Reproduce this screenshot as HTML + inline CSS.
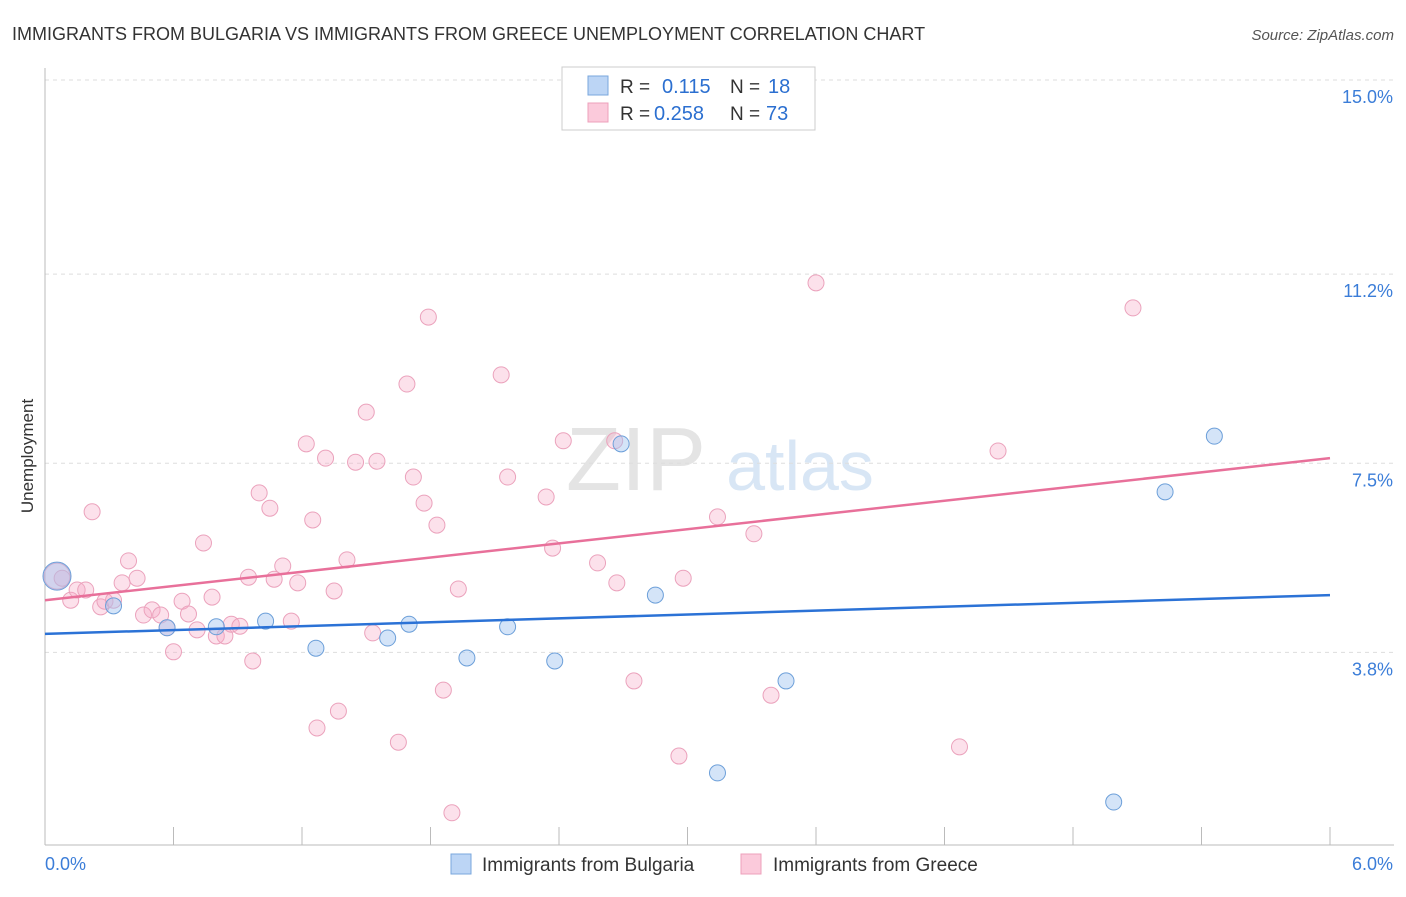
<!DOCTYPE html>
<html><head><meta charset="utf-8">
<style>
body{margin:0;background:#fff;font-family:"Liberation Sans",sans-serif;}
svg text{font-family:"Liberation Sans",sans-serif;}
</style></head>
<body>
<svg id="chart" width="1406" height="892" xmlns="http://www.w3.org/2000/svg">
<text x="12" y="40" font-size="18" fill="#333">IMMIGRANTS FROM BULGARIA VS IMMIGRANTS FROM GREECE UNEMPLOYMENT CORRELATION CHART</text>
<text x="1394" y="40" font-size="15" fill="#555" text-anchor="end" font-style="italic">Source: ZipAtlas.com</text>
<text transform="translate(33,456) rotate(-90)" font-size="17" fill="#333" text-anchor="middle">Unemployment</text>
<g>
<text x="636" y="490" font-size="90" fill="#e4e4e4" text-anchor="middle" font-family="Liberation Serif">ZIP</text>
<text x="800" y="490" font-size="70" fill="#d8e6f5" text-anchor="middle">atlas</text>
</g>
<g id="grid"></g>
<g id="axes"></g>
<g id="marks"></g>
<g>
<rect x="562" y="67" width="253" height="63" fill="#fff" stroke="#ccc"/>
<rect x="588" y="76" width="20" height="19" fill="#bcd5f5" stroke="#7aa7dd"/>
<rect x="588" y="103" width="20" height="19" fill="#fbcadb" stroke="#eea0bb"/>
<text x="620" y="93" font-size="19" fill="#333">R = </text><text x="662" y="93" font-size="20" fill="#2b6fd0">0.115</text>
<text x="730" y="93" font-size="19" fill="#333">N = </text><text x="768" y="93" font-size="20" fill="#2b6fd0">18</text>
<text x="620" y="120" font-size="19" fill="#333">R = </text><text x="654" y="120" font-size="20" fill="#2b6fd0">0.258</text>
<text x="730" y="120" font-size="19" fill="#333">N = </text><text x="766" y="120" font-size="20" fill="#2b6fd0">73</text>
</g>
<g>
<rect x="451" y="854" width="20" height="20" fill="#bcd5f5" stroke="#7aa7dd"/>
<text x="482" y="871" font-size="19" fill="#333">Immigrants from Bulgaria</text>
<rect x="741" y="854" width="20" height="20" fill="#fbcadb" stroke="#eea0bb"/>
<text x="773" y="871" font-size="19" fill="#333">Immigrants from Greece</text>
</g>
</svg>
<script>
const yTicks=[15.0,11.2,7.5,3.8];
const yTickLabels=["15.0%","11.2%","7.5%","3.8%"];
const xTickLabels=["0.0%","6.0%"];
const bulgariaX=[0.056,0.32,0.57,0.80,1.03,1.265,1.60,1.70,1.97,2.16,2.38,2.69,2.85,3.14,3.46,4.99,5.23,5.46];
const bulgariaY=[5.29,4.71,4.28,4.30,4.41,3.88,4.08,4.35,3.69,4.30,3.63,7.88,4.92,1.44,3.24,0.87,6.94,8.03];
const greeceX=[0.056,0.08,0.12,0.15,0.19,0.22,0.26,0.28,0.32,0.36,0.39,0.43,0.46,0.50,0.54,0.57,0.60,0.64,0.67,0.71,0.74,0.78,0.80,0.84,0.87,0.91,0.95,0.97,1.00,1.05,1.07,1.11,1.15,1.18,1.22,1.25,1.27,1.31,1.35,1.37,1.41,1.45,1.50,1.53,1.55,1.65,1.69,1.72,1.77,1.79,1.83,1.86,1.90,1.93,2.13,2.16,2.34,2.37,2.42,2.58,2.66,2.67,2.75,2.96,2.98,3.14,3.31,3.39,3.60,4.27,4.45,5.08];
const greeceY=[5.29,5.25,4.82,5.02,5.02,6.55,4.69,4.80,4.82,5.16,5.59,5.25,4.53,4.63,4.53,4.28,3.81,4.80,4.55,4.24,5.94,4.88,4.12,4.12,4.35,4.31,5.27,3.63,6.92,6.62,5.23,5.49,4.41,5.16,7.88,6.39,2.32,7.60,5.00,2.65,5.61,7.52,8.50,4.18,7.54,2.04,9.05,7.23,6.72,10.36,6.29,3.06,0.66,5.04,9.23,7.23,6.84,5.84,7.94,5.55,7.94,5.16,3.24,1.77,5.25,6.45,6.12,2.96,11.03,1.95,7.74,10.54];
const bulgariaTrend=[4.16,4.92];
const greeceTrend=[4.82,7.60];
const trendX=[0,6];

const NS="http://www.w3.org/2000/svg";
const X0=45,X1=1330,Y0=845,YTOP=80;
function sx(v){return X0+(v/6)*(X1-X0);}
function sy(v){return YTOP+(15-v)*51.1;}
function mk(tag,attrs,parent){const e=document.createElementNS(NS,tag);for(const k in attrs)e.setAttribute(k,attrs[k]);parent.appendChild(e);return e;}
const grid=document.getElementById('grid'),axes=document.getElementById('axes'),marks=document.getElementById('marks');
yTicks.forEach((t,i)=>{
  const l=mk('line',{x1:X0,x2:1394,y1:sy(t),y2:sy(t),stroke:'#ddd','stroke-dasharray':'4,4'},grid);
  
  
  const tx=mk('text',{x:1393,y:sy(t)+23,'font-size':18,fill:'#3b7dd8','text-anchor':'end'},axes);
  tx.textContent=yTickLabels[i];
  
  
});
const ax=mk('line',{x1:X0,x2:1394,y1:Y0,y2:Y0,stroke:'#bbb'},axes);


const ay=mk('line',{x1:X0,x2:X0,y1:68,y2:Y0,stroke:'#bbb'},axes);


for(let i=0;i<=10;i++){
  const t=mk('line',{x1:sx(i*0.6),x2:sx(i*0.6),y1:Y0,y2:Y0-18,stroke:'#bbb'},axes);
  
  
}
const xl0=mk('text',{x:45,y:870,'font-size':18,fill:'#3b7dd8'},axes);xl0.textContent=xTickLabels[0];


const xl1=mk('text',{x:1393,y:870,'font-size':18,fill:'#3b7dd8','text-anchor':'end'},axes);xl1.textContent=xTickLabels[1];



greeceX.forEach((x,i)=>{
  const c=mk('circle',{cx:sx(x),cy:sy(greeceY[i]),r:i===0?13:8,fill:'rgba(246,170,198,0.35)',stroke:'#eba2bc','stroke-width':1},marks);
  
  
});
bulgariaX.forEach((x,i)=>{
  const c=mk('circle',{cx:sx(x),cy:sy(bulgariaY[i]),r:i===0?14:8,fill:'rgba(160,195,240,0.45)',stroke:'#6c9fd9','stroke-width':1},marks);
  
  
});
const lb=mk('line',{x1:sx(trendX[0]),y1:sy(bulgariaTrend[0]),x2:sx(trendX[1]),y2:sy(bulgariaTrend[1]),stroke:'#2b72d6','stroke-width':2.5},marks);


const lg=mk('line',{x1:sx(trendX[0]),y1:sy(greeceTrend[0]),x2:sx(trendX[1]),y2:sy(greeceTrend[1]),stroke:'#e8709a','stroke-width':2.5},marks);


</script>
</body></html>
